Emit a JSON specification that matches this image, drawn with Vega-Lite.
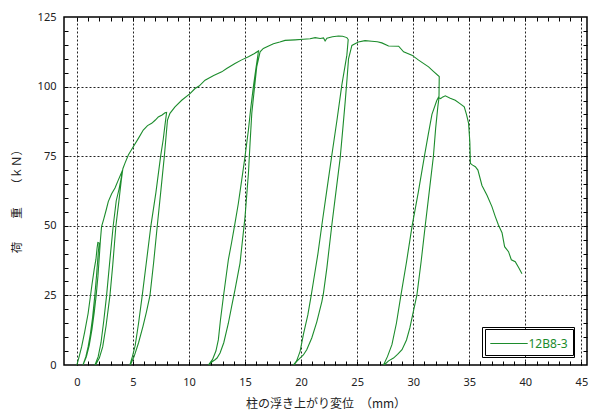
{
  "$schema": "https://vega.github.io/schema/vega-lite/v6.json",
  "width": 523,
  "height": 348,
  "autosize": {"type": "none"},
  "padding": {"left": 64, "top": 17, "right": 8, "bottom": 50},
  "background": "white",
  "config": {
    "view": {"stroke": "#000", "strokeWidth": 1.5},
    "axis": {"labelFont": "Noto Sans", "labelFontSize": 11, "labelColor": "#222", "titleFont": "Noto Sans CJK JP", "titleFontSize": 12, "titleColor": "#222", "titleFontWeight": "normal"},
    "legend": {"strokeColor": "#000"}
  },
  "data": {"values": [
    {"i":1,"x":0,"y":0},{"i":2,"x":0.2,"y":3},{"i":3,"x":0.42,"y":6.5},{"i":4,"x":0.7,"y":12},{"i":5,"x":1.0,"y":18.5},{"i":6,"x":1.2,"y":24.5},{"i":7,"x":1.35,"y":29},{"i":8,"x":1.55,"y":34.5},{"i":9,"x":1.7,"y":38},{"i":10,"x":1.8,"y":42},
    {"i":11,"x":1.87,"y":44},{"i":12,"x":1.99,"y":43.8},{"i":13,"x":1.9,"y":40},{"i":14,"x":1.75,"y":32},{"i":15,"x":1.6,"y":25},{"i":16,"x":1.4,"y":17},{"i":17,"x":1.2,"y":11},{"i":18,"x":1.0,"y":6.5},{"i":19,"x":0.8,"y":3},{"i":20,"x":0.54,"y":0},
    {"i":21,"x":0.6,"y":0.5},{"i":22,"x":0.85,"y":3},{"i":23,"x":1.1,"y":7},{"i":24,"x":1.35,"y":13},{"i":25,"x":1.55,"y":19},{"i":26,"x":1.72,"y":25},{"i":27,"x":1.88,"y":32},{"i":28,"x":2.0,"y":39},{"i":29,"x":2.1,"y":45},{"i":30,"x":2.2,"y":49.7},
    {"i":31,"x":2.4,"y":52.5},{"i":32,"x":2.6,"y":55.5},{"i":33,"x":2.8,"y":58.7},{"i":34,"x":3.1,"y":61.5},{"i":35,"x":3.4,"y":63.6},{"i":36,"x":3.7,"y":66.5},{"i":37,"x":4.05,"y":69.8},{"i":38,"x":3.95,"y":67},{"i":39,"x":3.75,"y":63},{"i":40,"x":3.51,"y":59},
    {"i":41,"x":3.24,"y":50},{"i":42,"x":2.95,"y":38},{"i":43,"x":2.65,"y":25},{"i":44,"x":2.4,"y":16},{"i":45,"x":2.15,"y":8},{"i":46,"x":1.9,"y":3},{"i":47,"x":1.61,"y":0},{"i":48,"x":1.7,"y":0.3},{"i":49,"x":2.0,"y":2.5},{"i":50,"x":2.3,"y":6.5},
    {"i":51,"x":2.6,"y":14},{"i":52,"x":2.95,"y":25},{"i":53,"x":3.2,"y":36},{"i":54,"x":3.48,"y":50},{"i":55,"x":3.75,"y":59},{"i":56,"x":3.95,"y":66},{"i":57,"x":4.1,"y":70.5},{"i":58,"x":4.29,"y":72.5},{"i":59,"x":4.6,"y":75.5},{"i":60,"x":5.03,"y":78.4},
    {"i":61,"x":5.5,"y":81.5},{"i":62,"x":5.92,"y":84.4},{"i":63,"x":6.3,"y":86},{"i":64,"x":6.67,"y":86.8},{"i":65,"x":7.0,"y":88},{"i":66,"x":7.26,"y":89.1},{"i":67,"x":7.6,"y":89.8},{"i":68,"x":7.86,"y":90.6},{"i":69,"x":8.0,"y":90.7},{"i":70,"x":7.85,"y":86},
    {"i":71,"x":7.7,"y":81},{"i":72,"x":7.47,"y":75},{"i":73,"x":7.05,"y":62},{"i":74,"x":6.6,"y":50},{"i":75,"x":6.2,"y":37},{"i":76,"x":5.83,"y":25},{"i":77,"x":5.5,"y":15},{"i":78,"x":5.2,"y":7},{"i":79,"x":4.95,"y":3},{"i":80,"x":4.73,"y":0},
    {"i":81,"x":4.8,"y":0.3},{"i":82,"x":5.1,"y":3},{"i":83,"x":5.5,"y":8},{"i":84,"x":5.9,"y":14},{"i":85,"x":6.2,"y":19},{"i":86,"x":6.52,"y":25},{"i":87,"x":6.85,"y":37},{"i":88,"x":7.17,"y":50},{"i":89,"x":7.5,"y":63},{"i":90,"x":7.8,"y":75},
    {"i":91,"x":7.95,"y":82},{"i":92,"x":8.08,"y":88},{"i":93,"x":8.3,"y":90.4},{"i":94,"x":8.75,"y":92.7},{"i":95,"x":9.35,"y":95.1},{"i":96,"x":10.09,"y":97.5},{"i":97,"x":10.54,"y":99.3},{"i":98,"x":10.9,"y":100.2},{"i":99,"x":11.43,"y":102.3},{"i":100,"x":12.2,"y":104},
    {"i":101,"x":12.92,"y":105.3},{"i":102,"x":13.36,"y":106.5},{"i":103,"x":14.1,"y":108.3},{"i":104,"x":14.7,"y":109.6},{"i":105,"x":15.3,"y":110.7},{"i":106,"x":15.8,"y":111.8},{"i":107,"x":16.2,"y":112.8},{"i":108,"x":15.95,"y":106},{"i":109,"x":15.74,"y":99.9},{"i":110,"x":15.5,"y":92},
    {"i":111,"x":15.3,"y":84.4},{"i":112,"x":15.0,"y":75},{"i":113,"x":14.7,"y":66.4},{"i":114,"x":14.4,"y":58},{"i":115,"x":14.1,"y":50.9},{"i":116,"x":13.8,"y":44},{"i":117,"x":13.51,"y":37.8},{"i":118,"x":13.07,"y":24.6},{"i":119,"x":12.8,"y":16},{"i":120,"x":12.62,"y":9.1},
    {"i":121,"x":12.4,"y":5},{"i":122,"x":12.1,"y":2},{"i":123,"x":11.73,"y":0},{"i":124,"x":11.85,"y":0.3},{"i":125,"x":12.0,"y":1},{"i":126,"x":12.32,"y":1.9},{"i":127,"x":12.5,"y":2.5},{"i":128,"x":12.77,"y":4.3},{"i":129,"x":13.1,"y":8},{"i":130,"x":13.51,"y":15},
    {"i":131,"x":13.8,"y":21},{"i":132,"x":14.1,"y":27},{"i":133,"x":14.55,"y":36.6},{"i":134,"x":15.0,"y":53.3},{"i":135,"x":15.3,"y":68.8},{"i":136,"x":15.45,"y":80},{"i":137,"x":15.6,"y":90.4},{"i":138,"x":15.85,"y":100},{"i":139,"x":16.04,"y":107.1},{"i":140,"x":16.34,"y":112.5},
    {"i":141,"x":16.63,"y":113.7},{"i":142,"x":17.1,"y":114.6},{"i":143,"x":17.53,"y":115.4},{"i":144,"x":18.1,"y":116},{"i":145,"x":18.57,"y":116.6},{"i":146,"x":19.46,"y":116.8},{"i":147,"x":20.2,"y":117},{"i":148,"x":20.8,"y":117.2},{"i":149,"x":21.25,"y":117.6},{"i":150,"x":21.7,"y":117.3},
    {"i":151,"x":22.0,"y":117.5},{"i":152,"x":22.14,"y":116.4},{"i":153,"x":22.3,"y":117.4},{"i":154,"x":22.8,"y":117.9},{"i":155,"x":23.33,"y":118.2},{"i":156,"x":23.7,"y":118.1},{"i":157,"x":24.08,"y":117.6},{"i":158,"x":24.2,"y":116.9},{"i":159,"x":24.08,"y":111.3},{"i":160,"x":23.63,"y":100.5},
    {"i":161,"x":23.2,"y":88},{"i":162,"x":22.74,"y":75.4},{"i":163,"x":22.3,"y":63},{"i":164,"x":21.85,"y":50.3},{"i":165,"x":21.5,"y":40},{"i":166,"x":21.1,"y":30},{"i":167,"x":20.9,"y":25},{"i":168,"x":20.6,"y":18},{"i":169,"x":20.2,"y":10.9},{"i":170,"x":19.91,"y":4.9},
    {"i":171,"x":19.6,"y":1.5},{"i":172,"x":19.31,"y":0},{"i":173,"x":19.4,"y":0.2},{"i":174,"x":19.61,"y":1.3},{"i":175,"x":19.9,"y":2.5},{"i":176,"x":20.2,"y":3.6},{"i":177,"x":20.5,"y":5.5},{"i":178,"x":20.95,"y":9.7},{"i":179,"x":21.4,"y":15.5},{"i":180,"x":21.85,"y":22.8},
    {"i":181,"x":22.0,"y":26},{"i":182,"x":22.3,"y":35},{"i":183,"x":22.74,"y":50.3},{"i":184,"x":23.1,"y":62},{"i":185,"x":23.48,"y":74.2},{"i":186,"x":23.7,"y":84},{"i":187,"x":23.93,"y":94.5},{"i":188,"x":24.1,"y":103},{"i":189,"x":24.23,"y":110},{"i":190,"x":24.53,"y":114.8},
    {"i":191,"x":25.1,"y":116},{"i":192,"x":25.7,"y":116.5},{"i":193,"x":26.3,"y":116.3},{"i":194,"x":26.8,"y":116.1},{"i":195,"x":27.2,"y":115.7},{"i":196,"x":27.8,"y":114.6},{"i":197,"x":28.7,"y":114.5},{"i":198,"x":29.14,"y":112.5},{"i":199,"x":29.88,"y":111.3},{"i":200,"x":30.48,"y":109.5},
    {"i":201,"x":31.37,"y":107.1},{"i":202,"x":31.8,"y":105.5},{"i":203,"x":32.32,"y":103.6},{"i":204,"x":32.3,"y":96.5},{"i":205,"x":32.1,"y":95},{"i":206,"x":31.67,"y":90},{"i":207,"x":31.35,"y":83},{"i":208,"x":31.0,"y":75},{"i":209,"x":30.45,"y":62},{"i":210,"x":29.9,"y":50},
    {"i":211,"x":29.4,"y":37},{"i":212,"x":28.9,"y":25},{"i":213,"x":28.5,"y":15},{"i":214,"x":28.1,"y":7.3},{"i":215,"x":27.7,"y":3},{"i":216,"x":27.35,"y":0},{"i":217,"x":27.45,"y":0.2},{"i":218,"x":27.8,"y":1.5},{"i":219,"x":28.24,"y":2.5},{"i":220,"x":28.6,"y":3.8},
    {"i":221,"x":29.0,"y":5.5},{"i":222,"x":29.4,"y":9},{"i":223,"x":29.7,"y":13.3},{"i":224,"x":30.0,"y":19},{"i":225,"x":30.33,"y":25.2},{"i":226,"x":30.7,"y":37},{"i":227,"x":31.07,"y":50},{"i":228,"x":31.45,"y":63},{"i":229,"x":31.8,"y":75},{"i":230,"x":32.0,"y":85},
    {"i":231,"x":32.2,"y":93},{"i":232,"x":32.3,"y":96},{"i":233,"x":32.45,"y":95.7},{"i":234,"x":32.6,"y":96.2},{"i":235,"x":32.86,"y":96.7},{"i":236,"x":33.3,"y":95.8},{"i":237,"x":33.75,"y":95.1},{"i":238,"x":34.2,"y":93.8},{"i":239,"x":34.55,"y":92.7},{"i":240,"x":34.75,"y":90},
    {"i":241,"x":34.94,"y":86.8},{"i":242,"x":35.05,"y":80},{"i":243,"x":35.1,"y":72.4},{"i":244,"x":35.3,"y":71.8},{"i":245,"x":35.54,"y":71.2},{"i":246,"x":35.77,"y":70},{"i":247,"x":36.13,"y":64.5},{"i":248,"x":36.58,"y":61},{"i":249,"x":37.02,"y":56.9},{"i":250,"x":37.32,"y":53.3},
    {"i":251,"x":37.6,"y":50.3},{"i":252,"x":37.92,"y":47.5},{"i":253,"x":38.15,"y":42.5},{"i":254,"x":38.5,"y":40.7},{"i":255,"x":38.75,"y":37.8},{"i":256,"x":39.1,"y":37.1},{"i":257,"x":39.4,"y":35},{"i":258,"x":39.7,"y":32.8}
  ]},
  "layer": [
    {
      "mark": {"type": "point", "opacity": 0},
      "encoding": {
        "x": {"field": "x", "type": "quantitative", "scale": {"domain": [-1.15, 45.5], "nice": false, "zero": false},
          "axis": {"orient": "top", "values": [0,5,10,15,20,25,30,35,40,45], "grid": true, "gridColor": "#222", "gridDash": [2,2], "gridWidth": 1, "ticks": false, "labels": false, "domain": false, "title": null}},
        "y": {"field": "y", "type": "quantitative", "scale": {"domain": [0, 125], "nice": false},
          "axis": {"orient": "right", "values": [25,50,75,100], "grid": true, "gridColor": "#222", "gridDash": [2,2], "gridWidth": 1, "ticks": false, "labels": false, "domain": false, "title": null}},
        "shape": {"datum": " ", "type": "nominal", "scale": {"range": ["circle"]},
          "legend": {"orient": "none", "legendX": 418, "legendY": 310, "title": null, "padding": 0, "symbolSize": 900, "symbolOpacity": 0, "symbolStrokeWidth": 0, "labelOffset": 62, "labelFontSize": 2, "fillColor": "transparent"}}
      }
    },
    {
      "mark": {"type": "point", "opacity": 0},
      "encoding": {
        "x": {"field": "x", "type": "quantitative",
          "axis": {"orient": "top", "offset": -4, "values": [0,1,2,3,4,5,6,7,8,9,10,11,12,13,14,15,16,17,18,19,20,21,22,23,24,25,26,27,28,29,30,31,32,33,34,35,36,37,38,39,40,41,42,43,44,45], "grid": false, "tickSize": 4, "tickColor": "#000", "labels": false, "domain": false, "title": null}},
        "y": {"field": "y", "type": "quantitative",
          "axis": {"orient": "right", "offset": -4, "values": [5,10,15,20,25,30,35,40,45,50,55,60,65,70,75,80,85,90,95,100,105,110,115,120], "grid": false, "tickSize": 4, "tickColor": "#000", "labels": false, "domain": false, "title": null}}
      }
    },
    {
      "mark": {"type": "point", "opacity": 0},
      "encoding": {
        "x": {"field": "x", "type": "quantitative",
          "axis": {"orient": "bottom", "offset": -4, "values": [0,1,2,3,4,5,6,7,8,9,10,11,12,13,14,15,16,17,18,19,20,21,22,23,24,25,26,27,28,29,30,31,32,33,34,35,36,37,38,39,40,41,42,43,44,45], "grid": false, "tickSize": 4, "tickColor": "#000", "labels": false, "domain": false, "title": null}},
        "y": {"field": "y", "type": "quantitative",
          "axis": {"orient": "left", "offset": -4, "values": [5,10,15,20,25,30,35,40,45,50,55,60,65,70,75,80,85,90,95,100,105,110,115,120], "grid": false, "tickSize": 4, "tickColor": "#000", "labels": false, "domain": false, "title": null}}
      }
    },
    {
      "mark": {"type": "line", "color": "#1c8c2c", "strokeWidth": 1.1, "clip": true},
      "encoding": {
        "x": {"field": "x", "type": "quantitative",
          "axis": {"orient": "bottom", "values": [0,5,10,15,20,25,30,35,40,45], "grid": false, "ticks": false, "labelPadding": 11, "labelBaseline": "top", "domain": false, "title": "柱の浮き上がり変位　（mm）", "titleY": 38, "titleBaseline": "middle"}},
        "y": {"field": "y", "type": "quantitative",
          "axis": {"orient": "left", "values": [0,25,50,75,100,125], "grid": false, "ticks": false, "labelPadding": 8, "domain": false, "title": "荷　　重　　（ｋＮ）", "titleFontSize": 11.5, "titleX": -47, "titleY": 181, "titleAlign": "center", "titleBaseline": "middle", "titleAngle": 270}},
        "order": {"field": "i", "type": "quantitative"},
        "color": {"datum": "12B8-3", "type": "nominal", "scale": {"range": ["#1c8c2c"]},
          "legend": {"orient": "none", "legendX": 421, "legendY": 312, "title": null, "padding": 5, "fillColor": "white", "symbolType": "M-2.2,0H2.2", "symbolSize": 289, "symbolOffset": 9.5, "symbolStrokeWidth": 1.1, "labelOffset": 10, "labelFont": "Noto Sans", "labelFontSize": 12, "labelColor": "#1c8c2c"}}
      }
    }
  ],
  "resolve": {"axis": {"x": "independent", "y": "independent"}}
}
